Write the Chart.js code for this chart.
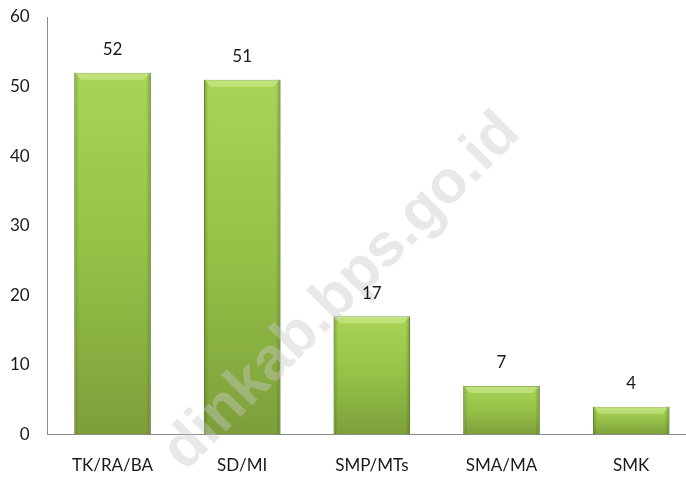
<!DOCTYPE html>
<html>
<head>
<meta charset="utf-8">
<script src="https://cdn.jsdelivr.net/npm/chart.js@4.4.1/dist/chart.umd.min.js"></script>
<style>
  html, body { margin: 0; padding: 0; background: #fff; overflow: hidden; }
  #wrap { width: 696px; height: 478px; }
</style>
</head>
<body>
<div id="wrap"><canvas id="mainChart"></canvas></div>
<script>
// data
var categories = ["TK/RA/BA", "SD/MI", "SMP/MTs", "SMA/MA", "SMK"];
var counts = [52, 51, 17, 7, 4];
var yTicks = [0, 10, 20, 30, 40, 50, 60];
var watermark = "dinkab.bps.go.id";

// bar fill: each bar lighter at the top, darker toward the axis
function barFill(ctx) {
    var chart = ctx.chart;
    if (!chart.chartArea || !chart.scales.y) return "#98C448";
    var y = chart.scales.y;
    var top = y.getPixelForValue(ctx.raw);
    var bottom = y.getPixelForValue(0);
    if (!isFinite(top) || bottom - top < 1) return "#98C448";
    var g = chart.ctx.createLinearGradient(0, top, 0, bottom);
    g.addColorStop(0, "#A9D458");
    g.addColorStop(0.5, "#95C147");
    g.addColorStop(1, "#7D9F3B");
    return g;
}

// bevel + watermark + value labels
var decorate = {
    id: "decorate",
    afterDatasetsDraw: function (chart) {
        var c = chart.ctx;
        var meta = chart.getDatasetMeta(0);
        c.save();
        meta.data.forEach(function (bar) {
            var l = bar.x - bar.width / 2, r = bar.x + bar.width / 2;
            var t = bar.y, b = bar.base;
            var side = c.createLinearGradient(l, 0, r, 0);
            side.addColorStop(0, "rgba(70,100,25,0.4)");
            side.addColorStop(0.06, "rgba(70,100,25,0)");
            side.addColorStop(0.94, "rgba(70,100,25,0)");
            side.addColorStop(1, "rgba(70,100,25,0.45)");
            c.fillStyle = side;
            c.fillRect(l, t, r - l, b - t);
            var bev = Math.min(7, (b - t) / 3);
            c.beginPath();
            c.moveTo(l, t);
            c.lineTo(r, t);
            c.lineTo(r - bev, t + bev);
            c.lineTo(l + bev, t + bev);
            c.closePath();
            c.fillStyle = "rgba(235,255,190,0.35)";
            c.fill();
        });
        c.restore();

        // watermark
        c.save();
        c.translate(342, 292);
        c.rotate(-Math.PI / 4);
        c.font = "bold 60px 'Liberation Sans', Arial, sans-serif";
        c.textAlign = "center";
        c.textBaseline = "middle";
        c.fillStyle = "rgba(200,200,200,0.42)";
        c.fillText(watermark, 0, 0);
        c.restore();

        // value labels
        c.save();
        c.font = "17px Lato, sans-serif";
        c.fillStyle = "#1a1a1a";
        c.textAlign = "center";
        c.textBaseline = "middle";
        meta.data.forEach(function (bar, i) {
            c.fillText(String(counts[i]), bar.x, bar.y - 23);
        });
        c.restore();
    }
};

new Chart(document.getElementById("mainChart"), {
    type: "bar",
    data: {
        labels: categories,
        datasets: [{
            label: "Jumlah",
            data: counts,
            backgroundColor: barFill,
            borderColor: "#6E932E",
            borderWidth: 1,
            borderSkipped: "bottom",
            barPercentage: 0.59,
            categoryPercentage: 1
        }]
    },
    options: {
        responsive: true,
        maintainAspectRatio: false,
        animation: false,
        layout: { padding: { left: 10, top: 17, right: 0, bottom: 2 } },
        plugins: {
            legend: { display: false },
            tooltip: { enabled: false }
        },
        scales: {
            x: {
                grid: { display: false, drawTicks: true, tickLength: 21 },
                border: { color: "#8c8c8c", width: 1 },
                ticks: {
                    color: "#1a1a1a",
                    font: { family: "Lato", size: 17 },
                    padding: 0,
                    maxRotation: 0
                }
            },
            y: {
                min: 0,
                max: 60,
                grid: { display: false, drawTicks: true, tickLength: 18 },
                border: { color: "#8c8c8c", width: 1 },
                afterBuildTicks: function (axis) {
                    axis.ticks = yTicks.map(function (v) { return { value: v }; });
                },
                ticks: {
                    color: "#1a1a1a",
                    font: { family: "Lato", size: 17 },
                    padding: 0
                }
            }
        }
    },
    plugins: [decorate]
});
</script>
</body>
</html>
